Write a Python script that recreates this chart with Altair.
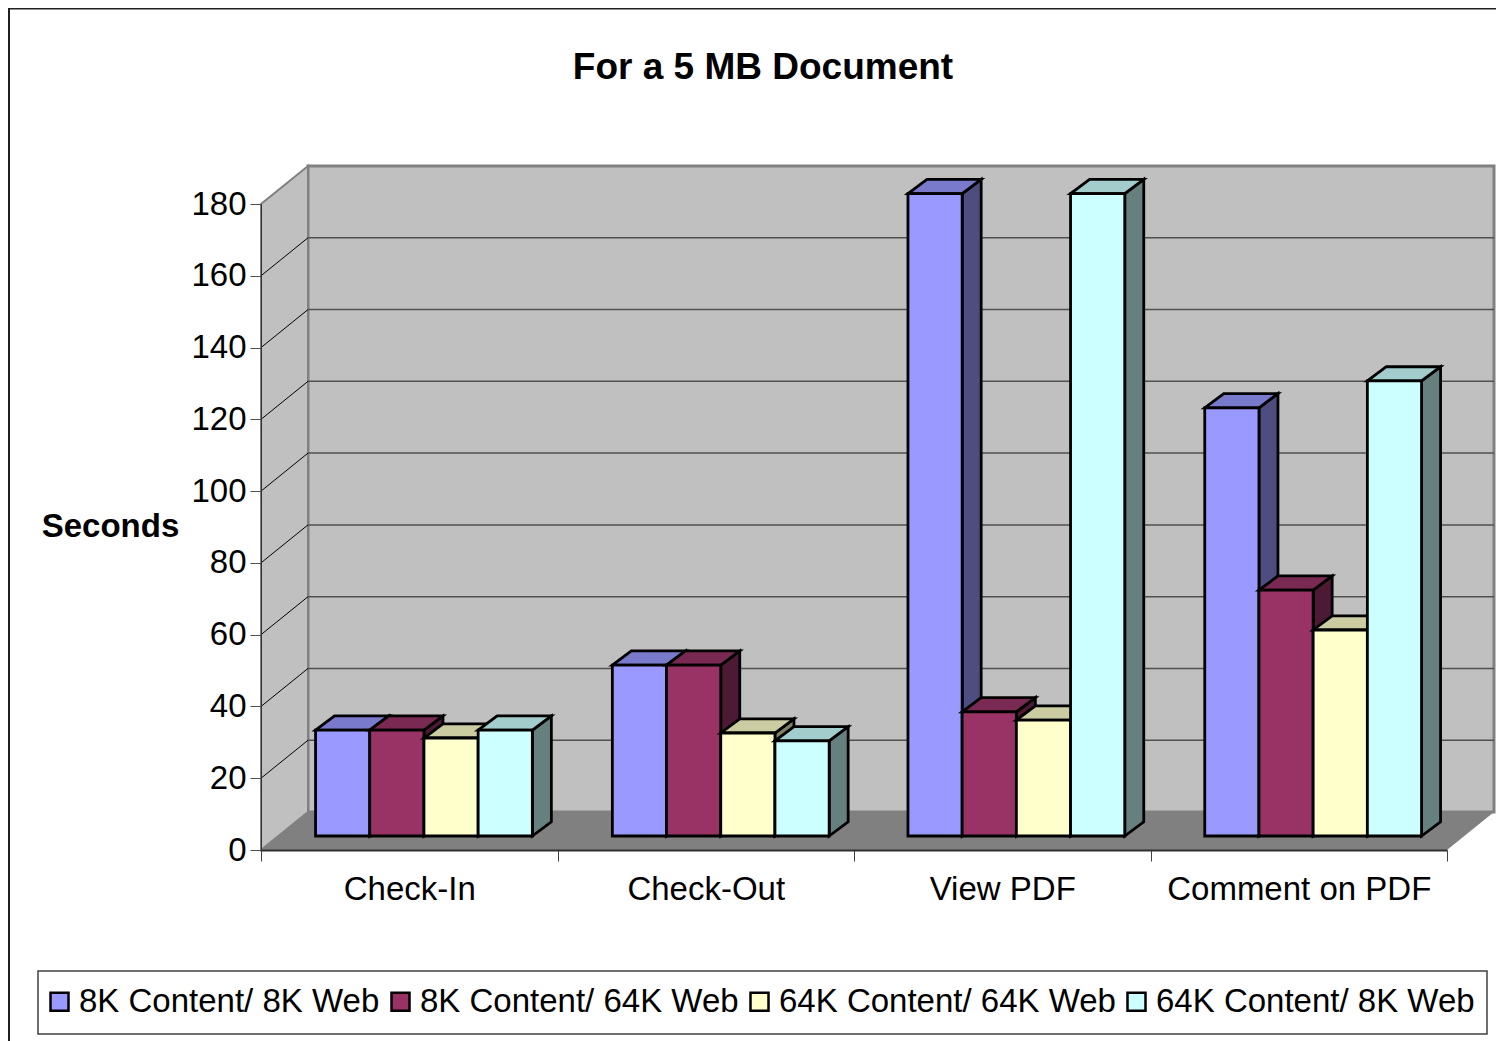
import altair as alt
import pandas as pd

categories = ["Check-In", "Check-Out", "View PDF", "Comment on PDF"]
series = ["8K Content/ 8K Web", "8K Content/ 64K Web", "64K Content/ 64K Web", "64K Content/ 8K Web"]
values = [
    [29.5, 47.6, 179.0, 119.3],
    [29.5, 47.6, 34.6, 68.5],
    [27.3, 28.7, 32.3, 57.4],
    [29.5, 26.5, 179.0, 126.8],
]
front = ["#9999FF", "#993366", "#FFFFCC", "#CCFFFF"]
top = ["#7A7ACC", "#7A2952", "#CCCCA3", "#A3CCCC"]
side = ["#4D4D80", "#4D1A33", "#808066", "#668080"]
y_ticks = list(range(0, 181, 20))

FONT = "Liberation Sans"
W, H = 1186, 646
# depth of the chart box and of the bars, in scale units
WALL_DX, WALL_DY = 47 / 296.5, 38 / 3.589
BAR_DX, BAR_DY = 19 / 296.5, 14.2 / 3.589
BASE = 14 / 3.589
GROUP_OFFSETS = [0.184, 0.185, 0.182, 0.183]
BAR_W = 54.2 / 296.5

x_scale = alt.Scale(domain=[0, 4], nice=False, zero=False)
y_scale = alt.Scale(domain=[0, 180], nice=False, zero=False)
names_js = "[" + ",".join(f"'{c}'" for c in categories) + "]"
x_axis = alt.Axis(
    values=[i / 2 for i in range(9)], title=None, grid=False, tickSize=11, tickColor="#404040",
    tickOpacity={"condition": {"test": "datum.value % 1 != 0", "value": 0}, "value": 1},
    labelExpr=f"datum.value % 1 != 0 ? {names_js}[floor(datum.value)] : ''",
    labelFont=FONT, labelFontSize=33, labelColor="black", labelPadding=12, labelOverlap=False,
    labelFlush=False, labelAngle=0, labelLimit=400, domainColor="#303030", domainWidth=2, zindex=1,
)
y_axis = alt.Axis(
    values=y_ticks, title="Seconds", grid=False, tickSize=11, tickColor="#505050",
    labelFont=FONT, labelFontSize=33, labelColor="black", labelPadding=4, labelOverlap=False,
    labelFlush=False, domainColor="#303030", domainWidth=1, zindex=1,
    titleFont=FONT, titleFontSize=33, titleFontWeight="bold", titleColor="black", titleAngle=0,
    titleAlign="center", titleBaseline="middle", titleX=-151, titleY=322,
)
X = alt.X("x:Q", scale=x_scale, axis=x_axis)
Y = alt.Y("y:Q", scale=y_scale, axis=y_axis)

layers = []

# frame of the picture and box of the legend
frame = pd.DataFrame({"a": [0]})
layers.append(alt.Chart(frame).mark_rule(color="#202020", strokeWidth=2)
              .encode(x=alt.value(-252), y=alt.value(-196), y2=alt.value(837)))
layers.append(alt.Chart(frame).mark_rule(color="#202020", strokeWidth=2)
              .encode(x=alt.value(-253), x2=alt.value(1235), y=alt.value(-195.5)))
layers.append(alt.Chart(frame).mark_rect(fill="white", stroke="#404040", strokeWidth=1.5)
              .encode(x=alt.value(-223), x2=alt.value(1226), y=alt.value(767), y2=alt.value(830)))

# back wall
back = pd.DataFrame({"x": [WALL_DX], "x2": [4 + WALL_DX], "y": [WALL_DY], "y2": [180 + WALL_DY]})
layers.append(alt.Chart(back).mark_rect(fill="#C0C0C0", stroke="#808080", strokeWidth=3)
              .encode(x=X, x2="x2:Q", y=Y, y2="y2:Q"))
# left wall
left = pd.DataFrame({"x": [0, WALL_DX], "y": [0, WALL_DY], "y2": [180, 180 + WALL_DY]})
layers.append(alt.Chart(left).mark_area(fill="#C0C0C0", stroke="#808080", strokeWidth=2)
              .encode(x=X, y=Y, y2="y2:Q"))
# floor
floor = pd.DataFrame({"y": [0, WALL_DY], "x": [0, WALL_DX], "x2": [4, 4 + WALL_DX]})
layers.append(alt.Chart(floor).mark_area(orient="horizontal", fill="#808080")
              .encode(x=X, x2="x2:Q", y=Y))
# grid on the back wall and the left wall
grid = pd.DataFrame({"x": WALL_DX, "x2": 4 + WALL_DX, "y": [v + WALL_DY for v in y_ticks[1:-1]]})
layers.append(alt.Chart(grid).mark_rule(color="#505050", strokeWidth=1.5)
              .encode(x=X, x2="x2:Q", y=Y))
grid_left = pd.DataFrame([
    {"v": v, "x": dx, "y": v + dy}
    for v in y_ticks[1:-1] for dx, dy in ((0, 0), (WALL_DX, WALL_DY))
])
layers.append(alt.Chart(grid_left).mark_line(color="black", strokeWidth=1)
              .encode(x=X, y=Y, detail="v:N"))

# bars, series by series so each one overlaps the previous one
for s, name in enumerate(series):
    rows_front, rows_side, rows_top = [], [], []
    for c, cat in enumerate(categories):
        x0 = c + GROUP_OFFSETS[c] + s * BAR_W
        x1 = x0 + BAR_W
        v = values[s][c] + BASE
        rows_front.append({"series": name, "x": x0, "x2": x1, "y": v, "y2": BASE})
        rows_side += [
            {"c": cat, "x": x1, "y": v, "y2": BASE},
            {"c": cat, "x": x1 + BAR_DX, "y": v + BAR_DY, "y2": BASE + BAR_DY},
        ]
        rows_top += [
            {"c": cat, "y": v, "x": x0, "x2": x1},
            {"c": cat, "y": v + BAR_DY, "x": x0 + BAR_DX, "x2": x1 + BAR_DX},
        ]
    layers.append(alt.Chart(pd.DataFrame(rows_side))
                  .mark_area(fill=side[s], stroke="black", strokeWidth=2.8, strokeJoin="miter")
                  .encode(x=X, y=Y, y2="y2:Q", detail="c:N"))
    layers.append(alt.Chart(pd.DataFrame(rows_top))
                  .mark_area(orient="horizontal", fill=top[s], stroke="black", strokeWidth=2.8, strokeJoin="miter")
                  .encode(x=X, x2="x2:Q", y=Y, detail="c:N"))
    layers.append(alt.Chart(pd.DataFrame(rows_front))
                  .mark_rect(stroke="black", strokeWidth=2.8)
                  .encode(
                      x=X, x2="x2:Q", y=Y, y2="y2:Q",
                      color=alt.Color(
                          "series:N",
                          scale=alt.Scale(domain=series, range=front),
                          legend=alt.Legend(
                              title=None, orient="none", legendX=-218, legendY=781, direction="horizontal",
                              columns=4, gridAlign="each", columnPadding=4, padding=0,
                              symbolType="square", symbolSize=324, symbolStrokeColor="black",
                              symbolStrokeWidth=2.5, symbolOpacity=1, labelOffset=3,
                              labelFont=FONT, labelFontSize=33, labelColor="black", labelLimit=500,
                          ),
                      ),
                  ))

chart = alt.layer(*layers).properties(
    width=W, height=H, autosize="none",
    padding={"left": 253, "top": 196, "right": 49, "bottom": 191},
    background="white",
    title=alt.TitleParams(
        "For a 5 MB Document", font=FONT, fontSize=37, fontWeight="bold", color="black",
        anchor="middle", dx=-91, offset=-98, baseline="middle",
    ),
).configure_view(stroke=None)

chart.save("out.html", embed_options={"renderer": "svg", "actions": False})
